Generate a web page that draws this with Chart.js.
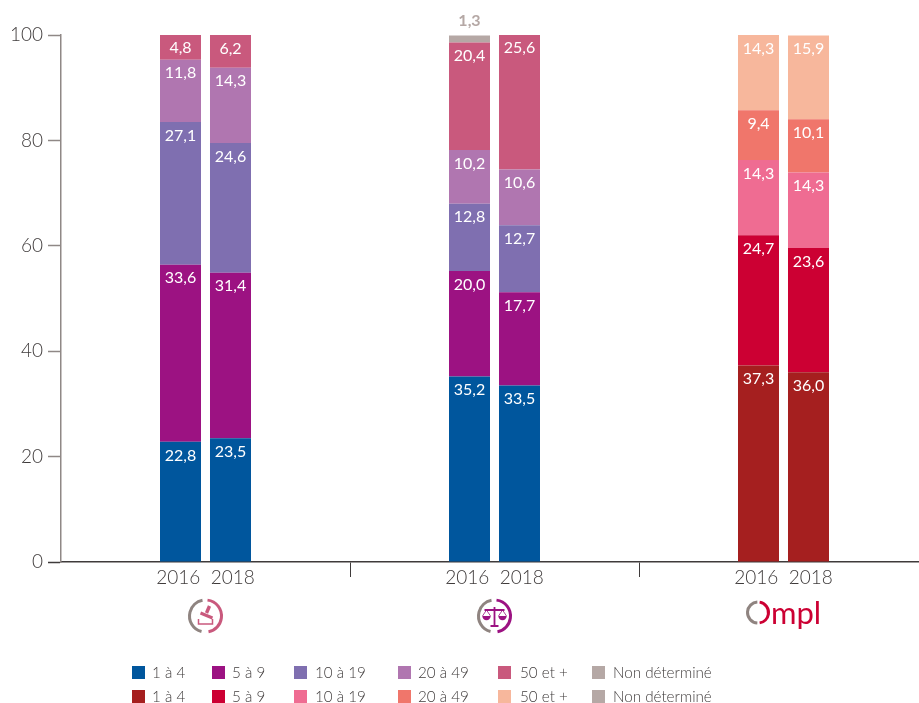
<!DOCTYPE html>
<html lang="fr">
<head>
<meta charset="utf-8">
<script src="https://cdn.jsdelivr.net/npm/chart.js@4/dist/chart.umd.min.js"></script>
<style>
html,body{margin:0;padding:0;background:#fff;overflow:hidden;width:919px;height:703px}
#wrap{position:absolute;left:0;top:0;width:919px;height:703px;overflow:hidden}
canvas{display:block}
</style>
</head>
<body>
<div id="wrap"><canvas id="c" width="940" height="703" style="width:940px;height:703px"></canvas></div>
<script>
const groupLabels = ['2016  2018', '2016  2018', '2016  2018'];
const classes = ['1 à 4', '5 à 9', '10 à 19', '20 à 49', '50 et +', 'Non déterminé'];
const colorsBlue = ['#00569D', '#9C1282', '#7F6FB0', '#B076B0', '#C9597D', '#B5A8A5'];
const colorsRed = ['#A51F1F', '#CC0033', '#EF6C92', '#F0766B', '#F7B79C', '#B5A8A5'];

const a2016 = [22.8, 35.2, 37.3];
const b2016 = [33.6, 20.0, 24.7];
const c2016 = [27.1, 12.8, 14.3];
const d2016 = [11.8, 10.2, 9.4];
const e2016 = [4.8, 20.4, 14.3];
const f2016 = [0, 1.3, 0];
const a2018 = [23.5, 33.5, 36.0];
const b2018 = [31.4, 17.7, 23.6];
const c2018 = [24.6, 12.7, 14.3];
const d2018 = [14.3, 10.6, 10.1];
const e2018 = [6.2, 25.6, 15.9];
const f2018 = [0, 0, 0];

const FONT = 'Lato, sans-serif';
const TEXT = '#3f3b3b';
const GREY = '#8f8886';

function makeSets(year, rows) {
  return rows.map((data, k) => ({
    label: classes[k] + ' ' + year,
    stack: year,
    data,
    backgroundColor: [colorsBlue[k], colorsBlue[k], colorsRed[k]],
    borderWidth: 0,
    categoryPercentage: 0.346,
    barPercentage: 0.82
  }));
}

const segmentLabels = {
  id: 'segmentLabels',
  afterDatasetsDraw(chart) {
    const ctx = chart.ctx;
    ctx.save();
    ctx.textAlign = 'center';
    ctx.textBaseline = 'middle';
    chart.data.datasets.forEach((ds, i) => {
      const meta = chart.getDatasetMeta(i);
      const grey = i % 6 === 5;
      meta.data.forEach((bar, j) => {
        const v = ds.data[j];
        if (!v) return;
        const s = v.toFixed(1).replace('.', ',');
        if (grey) {
          ctx.fillStyle = '#B5A8A5';
          ctx.font = 'bold 16px ' + FONT;
          ctx.fillText(s, bar.x, bar.y - 15);
        } else {
          ctx.fillStyle = '#fff';
          ctx.font = '16px ' + FONT;
          ctx.fillText(s, bar.x, bar.y + 13.5);
        }
      });
    });
    ctx.restore();
  }
};

function ring(ctx, x, y, r, col) {
  ctx.lineWidth = 3;
  ctx.lineCap = 'butt';
  ctx.strokeStyle = '#8F8480';
  ctx.beginPath();
  ctx.arc(x, y, r, Math.PI * 0.58, Math.PI * 1.44);
  ctx.stroke();
  ctx.strokeStyle = col;
  ctx.beginPath();
  ctx.arc(x, y, r, -Math.PI * 0.46, Math.PI * 0.44);
  ctx.stroke();
}

const logos = {
  id: 'logos',
  afterDraw(chart) {
    const ctx = chart.ctx, sx = chart.scales.x;
    const y = 616;
    ctx.save();
    // first badge: stamp
    let x = sx.getPixelForValue(0);
    ring(ctx, x, y, 16, '#C9597D');
    ctx.strokeStyle = ctx.fillStyle = '#C9597D';
    ctx.lineWidth = 3.4;
    ctx.beginPath(); ctx.moveTo(x + 4, y - 10); ctx.lineTo(x + 1, y - 3); ctx.stroke();
    ctx.lineWidth = 3;
    ctx.beginPath(); ctx.moveTo(x - 5, y - 3); ctx.lineTo(x + 7, y + 2); ctx.stroke();
    ctx.lineWidth = 1.5;
    ctx.beginPath(); ctx.moveTo(x - 7, y + 3); ctx.lineTo(x - 7, y + 8); ctx.lineTo(x + 7, y + 8); ctx.lineTo(x + 7, y + 3); ctx.stroke();
    // second badge: scales
    x = sx.getPixelForValue(1);
    ring(ctx, x, y, 16, '#9C1282');
    ctx.strokeStyle = ctx.fillStyle = '#9C1282';
    ctx.lineWidth = 1.8;
    ctx.beginPath(); ctx.moveTo(x, y - 9); ctx.lineTo(x, y + 10); ctx.moveTo(x - 4, y + 10); ctx.lineTo(x + 4, y + 10); ctx.moveTo(x - 10, y - 6); ctx.lineTo(x + 10, y - 6); ctx.stroke();
    ctx.lineWidth = 0.8;
    [-8, 8].forEach(d => {
      ctx.beginPath(); ctx.moveTo(x + d, y - 6); ctx.lineTo(x + d - 4, y); ctx.moveTo(x + d, y - 6); ctx.lineTo(x + d + 4, y); ctx.stroke();
      ctx.beginPath(); ctx.arc(x + d, y, 4.2, 0, Math.PI); ctx.fill();
    });
    // third logo
    x = sx.getPixelForValue(2);
    ctx.lineWidth = 3;
    ctx.strokeStyle = '#8F8480';
    ctx.beginPath(); ctx.arc(x - 25.5, 612.5, 10.5, Math.PI * 0.52, Math.PI * 1.48); ctx.stroke();
    ctx.strokeStyle = '#CC0033';
    ctx.beginPath(); ctx.arc(x - 25.5, 612.5, 10.5, -Math.PI * 0.45, Math.PI * 0.45); ctx.stroke();
    ctx.fillStyle = '#CC0033';
    ctx.font = '31px ' + FONT;
    ctx.textAlign = 'left';
    ctx.textBaseline = 'alphabetic';
    ctx.fillText('mpl', x - 12.5, 624);
    ctx.restore();
  }
};

const legendX = [132, 212, 294, 398, 498, 592];
const legendTextX = [152, 232, 315, 418, 520, 613];
const legendRowY = [666, 690];
const twoRowLegend = {
  id: 'twoRowLegend',
  afterDraw(chart) {
    const ctx = chart.ctx;
    ctx.save();
    ctx.font = '300 15.2px ' + FONT;
    ctx.textBaseline = 'middle';
    ctx.textAlign = 'left';
    [colorsBlue, colorsRed].forEach((cols, r) => {
      classes.forEach((name, k) => {
        ctx.fillStyle = cols[k];
        ctx.fillRect(legendX[k], legendRowY[r], 13, 13);
        ctx.fillStyle = TEXT;
        ctx.fillText(name, legendTextX[k], legendRowY[r] + 7);
      });
    });
    ctx.restore();
  }
};

new Chart(document.getElementById('c'), {
  type: 'bar',
  data: {
    labels: groupLabels,
    datasets: [
      ...makeSets('2016', [a2016, b2016, c2016, d2016, e2016, f2016]),
      ...makeSets('2018', [a2018, b2018, c2018, d2018, e2018, f2018])
    ]
  },
  plugins: [segmentLabels, logos, twoRowLegend],
  options: {
    responsive: false,
    animation: false,
    layout: { padding: { left: 0, right: 12, top: 35, bottom: 0 } },
    plugins: { legend: { display: false }, tooltip: { enabled: false } },
    scales: {
      x: {
        stacked: true,
        border: { color: TEXT, width: 1.5 },
        grid: {
          drawOnChartArea: false,
          tickLength: 15,
          tickWidth: 1,
          offset: true,
          tickColor: c => c.index === 0 ? 'rgba(0,0,0,0)' : TEXT
        },
        ticks: { color: TEXT, padding: -11, maxRotation: 0, font: { family: FONT, size: 19, weight: '300' } },
        afterFit(s) { s.height = 141; }
      },
      y: {
        stacked: true,
        min: 0,
        max: 100,
        border: { color: GREY, width: 1.5 },
        grid: {
          drawOnChartArea: false,
          tickLength: 13,
          tickWidth: 1.5,
          tickColor: c => c.tick && c.tick.value === 0 ? TEXT : GREY
        },
        ticks: { stepSize: 20, color: TEXT, padding: 5, font: { family: FONT, size: 19, weight: '300' } },
        afterFit(s) { s.width = 61; }
      }
    }
  }
});
</script>
</body>
</html>
